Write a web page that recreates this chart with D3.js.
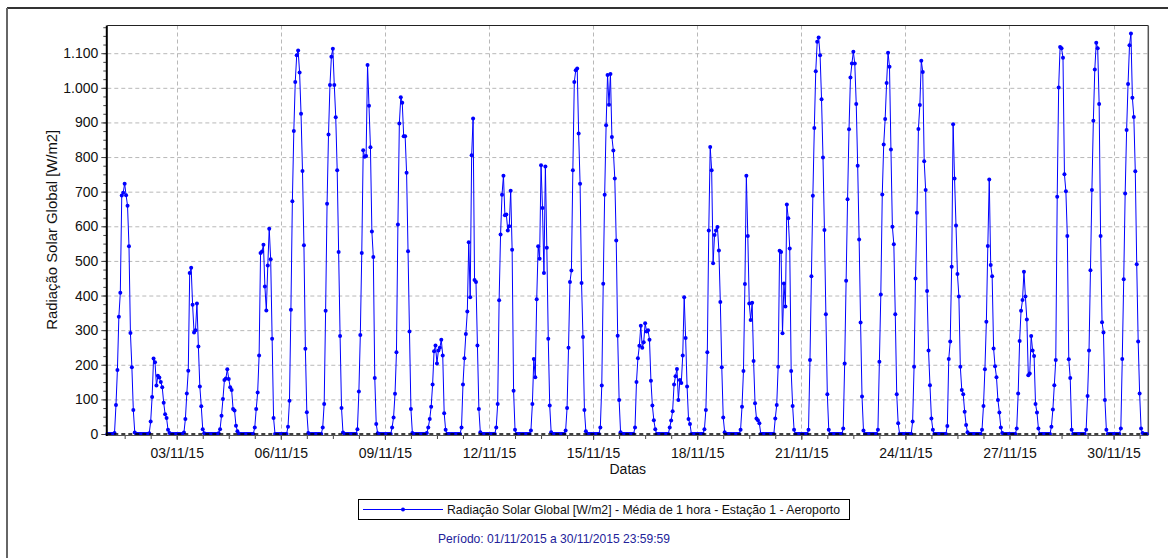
<!DOCTYPE html>
<html lang="pt-BR">
<head>
<meta charset="UTF-8">
<title>Radiação Solar Global - Novembro 2015</title>
<style>
  body { margin: 0; background: #fff; }
  svg { display: block; font-family: "Liberation Sans", Arial, sans-serif; }
</style>
</head>
<body>
<script src="https://d3js.org/d3.v7.min.js"></script>
<script>
// hourly means (W/m2), one array per day, hours 00..23
const d01 = [0,0,0,0,0,3, 84,185,339,408,689,697,723,690,659,542,292,193,69, 4,0,0,0,0];
const d02 = [0,0,0,0,0,2, 36,107,218,207,140,168,163,150,135,90,57,46,12, 3,0,0,0,0];
const d03 = [0,0,0,0,0,4, 43,117,183,465,480,373,293,300,377,253,137,80,14, 2,0,0,0,0];
const d04 = [0,0,0,0,0,2, 14,53,101,156,160,187,159,135,127,72,68,24,8, 0,0,0,0,0];
const d05 = [0,0,0,0,0,0, 19,72,120,227,523,527,547,426,357,487,593,505,275,46, 0,0,0,0];
const d06 = [0,0,0,0,0,21, 96,359,672,875,1017,1094,1108,1044,925,760,545,246,63, 3,0,0,0,0];
const d07 = [0,0,0,0,0,19, 87,356,665,865,1008,1090,1113,1008,915,762,526,283,75, 4,0,0,0,0];
const d08 = [0,0,0,0,0,14, 123,286,523,820,801,803,1066,948,828,585,511,162,29, 2,0,0,0,0];
const d09 = [0,0,0,0,0,19, 48,116,236,605,897,973,957,860,860,755,528,296,72, 3,0,0,0,0];
const d10 = [0,0,0,0,0,3, 19,43,79,143,239,256,204,241,249,272,227,60,12, 0,0,0,0,0];
const d11 = [0,0,0,0,0,19, 143,219,289,354,554,395,805,911,445,439,256,72,5, 0,0,0,0,0];
const d12 = [0,0,0,0,0,19, 87,386,576,691,746,632,634,588,600,703,532,125,12, 0,0,0,0,0];
const d13 = [0,0,0,0,0,10, 87,217,164,389,542,506,776,653,465,773,538,275,82,5, 0,0,0,0];
const d14 = [0,0,0,0,0,10, 75,249,439,472,762,1017,1051,1056,868,723,436,280,69,8, 0,0,0,0];
const d15 = [0,0,0,0,0,19, 140,434,691,892,1037,951,1040,858,819,738,559,284,98,5, 0,0,0,0];
const d16 = [0,0,0,0,0,19, 150,219,255,313,249,265,320,296,300,272,154,82,40,14, 0,0,0,0];
const d17 = [0,0,0,0,0,19, 39,66,143,167,188,98,156,147,227,395,277,137,43,29, 0,0,0,0];
const d18 = [0,0,0,0,0,14, 69,236,588,829,762,493,575,588,598,530,381,193,48,5, 0,0,0,0];
const d19 = [0,0,0,0,0,0, 12,79,182,433,746,572,377,329,379,211,89,45,40,31, 0,0,0,0];
const d20 = [0,0,0,0,0,0, 45,84,194,529,526,291,435,368,663,623,536,182,81,12, 0,0,0,0];
const d21 = [0,0,0,0,0,12, 214,456,688,884,1048,1133,1145,1094,967,799,589,346,115,12, 0,0,0,0];
const d22 = [0,0,0,0,0,16, 204,443,678,880,1030,1070,1104,1070,953,775,562,322,108,10, 0,0,0,0];
const d23 = [0,0,0,0,0,12, 209,403,692,836,910,1014,1101,1061,822,599,548,346,115,31, 0,0,0,0];
const d24 = [0,0,0,0,0,36, 194,449,639,881,950,1078,1046,788,705,413,241,141,45,12, 0,0,0,0];
const d25 = [0,0,0,0,0,23, 217,267,483,895,738,602,462,397,194,127,115,64,26,5, 0,0,0,0];
const d26 = [0,0,0,0,0,12, 81,187,324,543,735,488,456,247,196,164,98,62,19,3, 0,0,0,0];
const d27 = [0,0,0,0,0,16, 117,269,356,387,469,397,331,170,175,283,241,225,87,62,16, 0,0,0];
const d28 = [0,0,0,0,0,21, 71,141,214,685,1001,1118,1114,1087,750,701,572,216,162,12, 0,0,0,0];
const d29 = [0,0,0,0,0,12, 110,241,473,705,905,1053,1130,1114,953,572,323,293,98,12, 0,0,0,0];
const d30 = [0,0,0,0,0,16, 217,447,695,878,1011,1123,1157,971,916,759,490,267,117,16, 3,0,0,0];
const days = [d01,d02,d03,d04,d05,d06,d07,d08,d09,d10,d11,d12,d13,d14,d15,
              d16,d17,d18,d19,d20,d21,d22,d23,d24,d25,d26,d27,d28,d29,d30];

const xTickLabels = ["03/11/15","06/11/15","09/11/15","12/11/15","15/11/15",
                     "18/11/15","21/11/15","24/11/15","27/11/15","30/11/15"];
const yTicks = [0,100,200,300,400,500,600,700,800,900,1000,1100];

const seriesName = "Radiação Solar Global [W/m2] - Média de 1 hora - Estação 1 - Aeroporto";
const periodText = "Período: 01/11/2015 a 30/11/2015 23:59:59";
const yTitle = "Radiação Solar Global [W/m2]";
const xTitle = "Datas";

const w = 1168, h = 558;
const plotLeft = 107.3, plotRight = 1148.3, plotTop = 25.5, plotBottom = 434;

const points = [];
days.forEach((vals, i) => {
  vals.forEach((v, hr) => points.push({ t: new Date(Date.UTC(2015, 10, i + 1, hr)), v: v }));
});

const parseDay = d3.utcParse("%d/%m/%y");
const xTicks = xTickLabels.map(parseDay);
const ptBR = d3.formatLocale({ decimal: ",", thousands: ".", grouping: [3], currency: ["R$", ""] });
const yFmt = ptBR.format(",");

const xScale = d3.scaleUtc()
  .domain([new Date(Date.UTC(2015, 10, 1)), new Date(Date.UTC(2015, 11, 1))])
  .range([plotLeft, plotRight]);
const yScale = d3.scaleLinear().domain([0, 1180]).range([plotBottom, plotTop]);

const svg = d3.select("body").append("svg")
  .attr("width", w).attr("height", h);

// outer frame (only top and left edges visible)
svg.append("line").attr("x1", 7).attr("x2", w).attr("y1", 8).attr("y2", 8)
  .attr("stroke", "#333").attr("stroke-width", 2);
svg.append("line").attr("x1", 7).attr("x2", 7).attr("y1", 8).attr("y2", h)
  .attr("stroke", "#666").attr("stroke-width", 2);

// grid
svg.append("g").selectAll("line").data(yTicks.filter(d => d > 0)).enter().append("line")
  .attr("x1", plotLeft).attr("x2", plotRight)
  .attr("y1", d => yScale(d) + 0.5).attr("y2", d => yScale(d) + 0.5)
  .attr("stroke", "#b8b8b8").attr("stroke-dasharray", "4,3");
svg.append("g").selectAll("line").data(xTicks).enter().append("line")
  .attr("x1", d => Math.round(xScale(d)) + 0.5).attr("x2", d => Math.round(xScale(d)) + 0.5)
  .attr("y1", plotTop).attr("y2", plotBottom)
  .attr("stroke", "#b8b8b8").attr("stroke-dasharray", "4,3");

// plot frame top / right
svg.append("line").attr("x1", plotLeft).attr("x2", plotRight).attr("y1", plotTop).attr("y2", plotTop)
  .attr("stroke", "#222");
svg.append("line").attr("x1", plotRight).attr("x2", plotRight).attr("y1", plotTop).attr("y2", plotBottom + 1)
  .attr("stroke", "#555").attr("stroke-width", 1.5);

// axes
const yAxis = svg.append("g").attr("transform", "translate(" + (plotLeft - 1) + ",0)")
  .call(d3.axisLeft(yScale).tickValues(yTicks).tickFormat(yFmt).tickSize(5).tickPadding(3));
const yMinor = svg.append("g").attr("transform", "translate(" + (plotLeft - 1) + ",0)")
  .call(d3.axisLeft(yScale).tickValues(d3.range(0, 1180, 25)).tickFormat("").tickSize(3));
const xAxis = svg.append("g").attr("transform", "translate(0," + (plotBottom + 1) + ")")
  .call(d3.axisBottom(xScale).tickValues(xTicks).tickFormat(d3.utcFormat("%d/%m/%y")).tickSize(5).tickPadding(8));
const xMinor = svg.append("g").attr("transform", "translate(0," + (plotBottom + 1) + ")")
  .call(d3.axisBottom(xScale)
    .tickValues(d3.range(12, 30 * 24, 18).map(hh => new Date(Date.UTC(2015, 10, 1, hh))))
    .tickFormat("").tickSize(4));
[yAxis, yMinor, xAxis, xMinor].forEach(g => {
  g.select(".domain").remove();
  g.selectAll("line").attr("stroke", "#444");
  g.selectAll("text").attr("font-size", 14).attr("fill", "#111")
    .attr("font-family", "Liberation Sans, Arial, sans-serif");
});

// series
const line = d3.line().x(d => xScale(d.t)).y(d => yScale(d.v));
svg.append("path").datum(points)
  .attr("d", line).attr("fill", "none")
  .attr("stroke", "#0000ff").attr("stroke-width", 1);
svg.append("g").selectAll("circle").data(points).enter().append("circle")
  .attr("cx", d => xScale(d.t)).attr("cy", d => yScale(d.v))
  .attr("r", 2).attr("fill", "#0000ff");

// axis lines over data
svg.append("line").attr("x1", plotLeft).attr("x2", plotRight).attr("y1", plotBottom).attr("y2", plotBottom)
  .attr("stroke", "#000").attr("stroke-width", 1.5).attr("stroke-dasharray", "4,3");
svg.append("line").attr("x1", plotLeft).attr("x2", plotRight).attr("y1", plotBottom + 1.5).attr("y2", plotBottom + 1.5)
  .attr("stroke", "#555").attr("stroke-width", 1);
svg.append("line").attr("x1", plotLeft - 0.5).attr("x2", plotLeft - 0.5).attr("y1", plotTop).attr("y2", plotBottom + 2)
  .attr("stroke", "#000").attr("stroke-width", 2);

// titles
svg.append("text")
  .attr("transform", "translate(57," + ((plotTop + plotBottom) / 2) + ") rotate(-90)")
  .attr("text-anchor", "middle").attr("font-size", 14).attr("fill", "#111")
  .attr("textLength", 200).attr("lengthAdjust", "spacingAndGlyphs")
  .text(yTitle);
svg.append("text")
  .attr("x", (plotLeft + plotRight) / 2).attr("y", 474)
  .attr("text-anchor", "middle").attr("font-size", 14).attr("fill", "#111")
  .text(xTitle);

// legend
const legend = svg.append("g");
legend.append("rect").attr("x", 358.5).attr("y", 499.5).attr("width", 491).attr("height", 20)
  .attr("fill", "#fff").attr("stroke", "#000");
legend.append("line").attr("x1", 363).attr("x2", 443).attr("y1", 509.5).attr("y2", 509.5)
  .attr("stroke", "#0000ff").attr("stroke-width", 1.2);
legend.append("circle").attr("cx", 403).attr("cy", 509.5).attr("r", 2).attr("fill", "#0000ff");
legend.append("text").attr("x", 447).attr("y", 514)
  .attr("font-size", 13).attr("fill", "#111")
  .attr("textLength", 393).attr("lengthAdjust", "spacingAndGlyphs")
  .text(seriesName);

svg.append("text").attr("x", 438).attr("y", 543)
  .attr("font-size", 13).attr("fill", "#22229a")
  .attr("textLength", 232).attr("lengthAdjust", "spacingAndGlyphs")
  .text(periodText);
</script>
</body>
</html>
